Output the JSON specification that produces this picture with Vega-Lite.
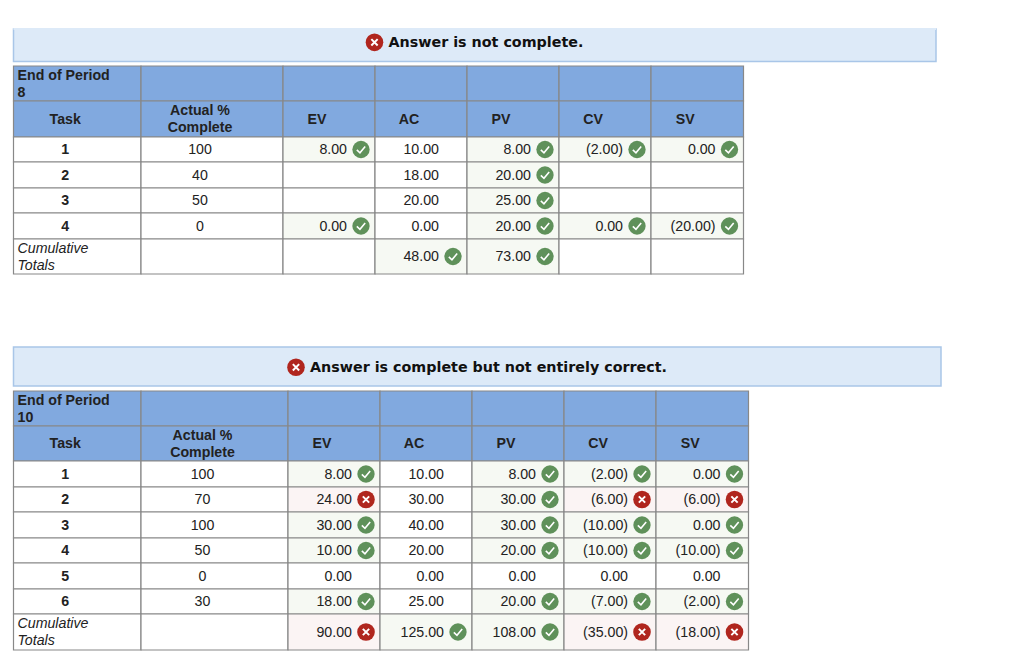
{
  "$schema": "https://vega.github.io/schema/vega-lite/v6.json",
  "width": 1024,
  "height": 671,
  "autosize": {"type": "fit", "contains": "padding"},
  "padding": 0,
  "background": "white",
  "view": {"stroke": null},
  "config": {"text": {"font": "Liberation Sans", "fontSize": 14.2, "color": "#222222", "lineBreak": "\n", "lineHeight": 17, "baseline": "middle"}},
  "data": {"values": [
    {"col":20,"colEnd":22,"row":0,"rowEnd":1,"status":"banner"},
    {"col":30,"colEnd":32,"row":10,"rowEnd":11,"status":"banner"},
    {"col":20,"colEnd":22,"row":0,"status":"cut"},
    {"colEnd":21,"row":0,"mid":0.41,"status":"bad","style":"message","text":"Answer is not complete."},
    {"colEnd":31,"row":10,"mid":10.52,"status":"bad","style":"message","text":"Answer is complete but not entirely correct."},

    {"col":0,"colEnd":1,"row":2,"rowEnd":3,"mid":2.5,"status":"head","style":"corner","text":"End of Period\n8"},
    {"col":1,"colEnd":2,"row":2,"rowEnd":3,"status":"head"},
    {"col":2,"colEnd":3,"row":2,"rowEnd":3,"status":"head"},
    {"col":3,"colEnd":4,"row":2,"rowEnd":3,"status":"head"},
    {"col":4,"colEnd":5,"row":2,"rowEnd":3,"status":"head"},
    {"col":5,"colEnd":6,"row":2,"rowEnd":3,"status":"head"},
    {"col":6,"colEnd":7,"row":2,"rowEnd":3,"status":"head"},
    {"col":0,"colEnd":1,"colMid":0.5,"row":3,"rowEnd":4,"mid":3.5,"status":"head","style":"bold","text":"Task"},
    {"col":1,"colEnd":2,"colMid":1.5,"row":3,"rowEnd":4,"mid":3.5,"status":"head","style":"bold2","text":"Actual %\nComplete"},
    {"col":2,"colEnd":3,"colMid":2.5,"row":3,"rowEnd":4,"mid":3.5,"status":"head","style":"bold","text":"EV"},
    {"col":3,"colEnd":4,"colMid":3.5,"row":3,"rowEnd":4,"mid":3.5,"status":"head","style":"bold","text":"AC"},
    {"col":4,"colEnd":5,"colMid":4.5,"row":3,"rowEnd":4,"mid":3.5,"status":"head","style":"bold","text":"PV"},
    {"col":5,"colEnd":6,"colMid":5.5,"row":3,"rowEnd":4,"mid":3.5,"status":"head","style":"bold","text":"CV"},
    {"col":6,"colEnd":7,"colMid":6.5,"row":3,"rowEnd":4,"mid":3.5,"status":"head","style":"bold","text":"SV"},

    {"col":0,"colEnd":1,"colMid":0.5,"row":4,"rowEnd":5,"mid":4.5,"status":"body","style":"bold","text":"1"},
    {"col":1,"colEnd":2,"colMid":1.5,"row":4,"rowEnd":5,"mid":4.5,"status":"body","style":"plain","text":"100"},
    {"col":2,"colEnd":3,"row":4,"rowEnd":5,"mid":4.5,"status":"ok","style":"value","text":"8.00"},
    {"col":3,"colEnd":4,"row":4,"rowEnd":5,"mid":4.5,"status":"body","style":"value","text":"10.00"},
    {"col":4,"colEnd":5,"row":4,"rowEnd":5,"mid":4.5,"status":"ok","style":"value","text":"8.00"},
    {"col":5,"colEnd":6,"row":4,"rowEnd":5,"mid":4.5,"status":"ok","style":"value","text":"(2.00)"},
    {"col":6,"colEnd":7,"row":4,"rowEnd":5,"mid":4.5,"status":"ok","style":"value","text":"0.00"},

    {"col":0,"colEnd":1,"colMid":0.5,"row":5,"rowEnd":6,"mid":5.5,"status":"body","style":"bold","text":"2"},
    {"col":1,"colEnd":2,"colMid":1.5,"row":5,"rowEnd":6,"mid":5.5,"status":"body","style":"plain","text":"40"},
    {"col":2,"colEnd":3,"row":5,"rowEnd":6,"status":"body"},
    {"col":3,"colEnd":4,"row":5,"rowEnd":6,"mid":5.5,"status":"body","style":"value","text":"18.00"},
    {"col":4,"colEnd":5,"row":5,"rowEnd":6,"mid":5.5,"status":"ok","style":"value","text":"20.00"},
    {"col":5,"colEnd":6,"row":5,"rowEnd":6,"status":"body"},
    {"col":6,"colEnd":7,"row":5,"rowEnd":6,"status":"body"},

    {"col":0,"colEnd":1,"colMid":0.5,"row":6,"rowEnd":7,"mid":6.5,"status":"body","style":"bold","text":"3"},
    {"col":1,"colEnd":2,"colMid":1.5,"row":6,"rowEnd":7,"mid":6.5,"status":"body","style":"plain","text":"50"},
    {"col":2,"colEnd":3,"row":6,"rowEnd":7,"status":"body"},
    {"col":3,"colEnd":4,"row":6,"rowEnd":7,"mid":6.5,"status":"body","style":"value","text":"20.00"},
    {"col":4,"colEnd":5,"row":6,"rowEnd":7,"mid":6.5,"status":"ok","style":"value","text":"25.00"},
    {"col":5,"colEnd":6,"row":6,"rowEnd":7,"status":"body"},
    {"col":6,"colEnd":7,"row":6,"rowEnd":7,"status":"body"},

    {"col":0,"colEnd":1,"colMid":0.5,"row":7,"rowEnd":8,"mid":7.5,"status":"body","style":"bold","text":"4"},
    {"col":1,"colEnd":2,"colMid":1.5,"row":7,"rowEnd":8,"mid":7.5,"status":"body","style":"plain","text":"0"},
    {"col":2,"colEnd":3,"row":7,"rowEnd":8,"mid":7.5,"status":"ok","style":"value","text":"0.00"},
    {"col":3,"colEnd":4,"row":7,"rowEnd":8,"mid":7.5,"status":"body","style":"value","text":"0.00"},
    {"col":4,"colEnd":5,"row":7,"rowEnd":8,"mid":7.5,"status":"ok","style":"value","text":"20.00"},
    {"col":5,"colEnd":6,"row":7,"rowEnd":8,"mid":7.5,"status":"ok","style":"value","text":"0.00"},
    {"col":6,"colEnd":7,"row":7,"rowEnd":8,"mid":7.5,"status":"ok","style":"value","text":"(20.00)"},

    {"col":0,"colEnd":1,"row":8,"rowEnd":9,"mid":8.5,"status":"body","style":"total","text":"Cumulative\nTotals"},
    {"col":1,"colEnd":2,"row":8,"rowEnd":9,"status":"body"},
    {"col":2,"colEnd":3,"row":8,"rowEnd":9,"status":"body"},
    {"col":3,"colEnd":4,"row":8,"rowEnd":9,"mid":8.5,"status":"ok","style":"value","text":"48.00"},
    {"col":4,"colEnd":5,"row":8,"rowEnd":9,"mid":8.5,"status":"ok","style":"value","text":"73.00"},
    {"col":5,"colEnd":6,"row":8,"rowEnd":9,"status":"body"},
    {"col":6,"colEnd":7,"row":8,"rowEnd":9,"status":"body"},

    {"col":10,"colEnd":11,"row":12,"rowEnd":13,"mid":12.5,"status":"head","style":"corner","text":"End of Period\n10"},
    {"col":11,"colEnd":12,"row":12,"rowEnd":13,"status":"head"},
    {"col":12,"colEnd":13,"row":12,"rowEnd":13,"status":"head"},
    {"col":13,"colEnd":14,"row":12,"rowEnd":13,"status":"head"},
    {"col":14,"colEnd":15,"row":12,"rowEnd":13,"status":"head"},
    {"col":15,"colEnd":16,"row":12,"rowEnd":13,"status":"head"},
    {"col":16,"colEnd":17,"row":12,"rowEnd":13,"status":"head"},
    {"col":10,"colEnd":11,"colMid":10.5,"row":13,"rowEnd":14,"mid":13.5,"status":"head","style":"bold","text":"Task"},
    {"col":11,"colEnd":12,"colMid":11.5,"row":13,"rowEnd":14,"mid":13.5,"status":"head","style":"bold2","text":"Actual %\nComplete"},
    {"col":12,"colEnd":13,"colMid":12.5,"row":13,"rowEnd":14,"mid":13.5,"status":"head","style":"bold","text":"EV"},
    {"col":13,"colEnd":14,"colMid":13.5,"row":13,"rowEnd":14,"mid":13.5,"status":"head","style":"bold","text":"AC"},
    {"col":14,"colEnd":15,"colMid":14.5,"row":13,"rowEnd":14,"mid":13.5,"status":"head","style":"bold","text":"PV"},
    {"col":15,"colEnd":16,"colMid":15.5,"row":13,"rowEnd":14,"mid":13.5,"status":"head","style":"bold","text":"CV"},
    {"col":16,"colEnd":17,"colMid":16.5,"row":13,"rowEnd":14,"mid":13.5,"status":"head","style":"bold","text":"SV"},

    {"col":10,"colEnd":11,"colMid":10.5,"row":14,"rowEnd":15,"mid":14.5,"status":"body","style":"bold","text":"1"},
    {"col":11,"colEnd":12,"colMid":11.5,"row":14,"rowEnd":15,"mid":14.5,"status":"body","style":"plain","text":"100"},
    {"col":12,"colEnd":13,"row":14,"rowEnd":15,"mid":14.5,"status":"ok","style":"value","text":"8.00"},
    {"col":13,"colEnd":14,"row":14,"rowEnd":15,"mid":14.5,"status":"body","style":"value","text":"10.00"},
    {"col":14,"colEnd":15,"row":14,"rowEnd":15,"mid":14.5,"status":"ok","style":"value","text":"8.00"},
    {"col":15,"colEnd":16,"row":14,"rowEnd":15,"mid":14.5,"status":"ok","style":"value","text":"(2.00)"},
    {"col":16,"colEnd":17,"row":14,"rowEnd":15,"mid":14.5,"status":"ok","style":"value","text":"0.00"},

    {"col":10,"colEnd":11,"colMid":10.5,"row":15,"rowEnd":16,"mid":15.5,"status":"body","style":"bold","text":"2"},
    {"col":11,"colEnd":12,"colMid":11.5,"row":15,"rowEnd":16,"mid":15.5,"status":"body","style":"plain","text":"70"},
    {"col":12,"colEnd":13,"row":15,"rowEnd":16,"mid":15.5,"status":"bad","style":"value","text":"24.00"},
    {"col":13,"colEnd":14,"row":15,"rowEnd":16,"mid":15.5,"status":"body","style":"value","text":"30.00"},
    {"col":14,"colEnd":15,"row":15,"rowEnd":16,"mid":15.5,"status":"ok","style":"value","text":"30.00"},
    {"col":15,"colEnd":16,"row":15,"rowEnd":16,"mid":15.5,"status":"bad","style":"value","text":"(6.00)"},
    {"col":16,"colEnd":17,"row":15,"rowEnd":16,"mid":15.5,"status":"bad","style":"value","text":"(6.00)"},

    {"col":10,"colEnd":11,"colMid":10.5,"row":16,"rowEnd":17,"mid":16.5,"status":"body","style":"bold","text":"3"},
    {"col":11,"colEnd":12,"colMid":11.5,"row":16,"rowEnd":17,"mid":16.5,"status":"body","style":"plain","text":"100"},
    {"col":12,"colEnd":13,"row":16,"rowEnd":17,"mid":16.5,"status":"ok","style":"value","text":"30.00"},
    {"col":13,"colEnd":14,"row":16,"rowEnd":17,"mid":16.5,"status":"body","style":"value","text":"40.00"},
    {"col":14,"colEnd":15,"row":16,"rowEnd":17,"mid":16.5,"status":"ok","style":"value","text":"30.00"},
    {"col":15,"colEnd":16,"row":16,"rowEnd":17,"mid":16.5,"status":"ok","style":"value","text":"(10.00)"},
    {"col":16,"colEnd":17,"row":16,"rowEnd":17,"mid":16.5,"status":"ok","style":"value","text":"0.00"},

    {"col":10,"colEnd":11,"colMid":10.5,"row":17,"rowEnd":18,"mid":17.5,"status":"body","style":"bold","text":"4"},
    {"col":11,"colEnd":12,"colMid":11.5,"row":17,"rowEnd":18,"mid":17.5,"status":"body","style":"plain","text":"50"},
    {"col":12,"colEnd":13,"row":17,"rowEnd":18,"mid":17.5,"status":"ok","style":"value","text":"10.00"},
    {"col":13,"colEnd":14,"row":17,"rowEnd":18,"mid":17.5,"status":"body","style":"value","text":"20.00"},
    {"col":14,"colEnd":15,"row":17,"rowEnd":18,"mid":17.5,"status":"ok","style":"value","text":"20.00"},
    {"col":15,"colEnd":16,"row":17,"rowEnd":18,"mid":17.5,"status":"ok","style":"value","text":"(10.00)"},
    {"col":16,"colEnd":17,"row":17,"rowEnd":18,"mid":17.5,"status":"ok","style":"value","text":"(10.00)"},

    {"col":10,"colEnd":11,"colMid":10.5,"row":18,"rowEnd":19,"mid":18.5,"status":"body","style":"bold","text":"5"},
    {"col":11,"colEnd":12,"colMid":11.5,"row":18,"rowEnd":19,"mid":18.5,"status":"body","style":"plain","text":"0"},
    {"col":12,"colEnd":13,"row":18,"rowEnd":19,"mid":18.5,"status":"body","style":"value","text":"0.00"},
    {"col":13,"colEnd":14,"row":18,"rowEnd":19,"mid":18.5,"status":"body","style":"value","text":"0.00"},
    {"col":14,"colEnd":15,"row":18,"rowEnd":19,"mid":18.5,"status":"body","style":"value","text":"0.00"},
    {"col":15,"colEnd":16,"row":18,"rowEnd":19,"mid":18.5,"status":"body","style":"value","text":"0.00"},
    {"col":16,"colEnd":17,"row":18,"rowEnd":19,"mid":18.5,"status":"body","style":"value","text":"0.00"},

    {"col":10,"colEnd":11,"colMid":10.5,"row":19,"rowEnd":20,"mid":19.5,"status":"body","style":"bold","text":"6"},
    {"col":11,"colEnd":12,"colMid":11.5,"row":19,"rowEnd":20,"mid":19.5,"status":"body","style":"plain","text":"30"},
    {"col":12,"colEnd":13,"row":19,"rowEnd":20,"mid":19.5,"status":"ok","style":"value","text":"18.00"},
    {"col":13,"colEnd":14,"row":19,"rowEnd":20,"mid":19.5,"status":"body","style":"value","text":"25.00"},
    {"col":14,"colEnd":15,"row":19,"rowEnd":20,"mid":19.5,"status":"ok","style":"value","text":"20.00"},
    {"col":15,"colEnd":16,"row":19,"rowEnd":20,"mid":19.5,"status":"ok","style":"value","text":"(7.00)"},
    {"col":16,"colEnd":17,"row":19,"rowEnd":20,"mid":19.5,"status":"ok","style":"value","text":"(2.00)"},

    {"col":10,"colEnd":11,"row":20,"rowEnd":21,"mid":20.5,"status":"body","style":"total","text":"Cumulative\nTotals"},
    {"col":11,"colEnd":12,"row":20,"rowEnd":21,"status":"body"},
    {"col":12,"colEnd":13,"row":20,"rowEnd":21,"mid":20.5,"status":"bad","style":"value","text":"90.00"},
    {"col":13,"colEnd":14,"row":20,"rowEnd":21,"mid":20.5,"status":"ok","style":"value","text":"125.00"},
    {"col":14,"colEnd":15,"row":20,"rowEnd":21,"mid":20.5,"status":"ok","style":"value","text":"108.00"},
    {"col":15,"colEnd":16,"row":20,"rowEnd":21,"mid":20.5,"status":"bad","style":"value","text":"(35.00)"},
    {"col":16,"colEnd":17,"row":20,"rowEnd":21,"mid":20.5,"status":"bad","style":"value","text":"(18.00)"}
  ]},
  "layer": [
    {
      "transform": [{"filter": "datum.status == 'banner'"}],
      "mark": {"type": "rect", "fill": "#DDEAF8", "stroke": "#A9C6E8", "strokeWidth": 1.5},
      "encoding": {
        "x": {"field": "col", "type": "quantitative", "axis": null, "scale": {"zero": false, "nice": false, "domain": [0,1,2,3,4,5,6,7,10,11,12,13,14,15,16,17,20,21,22,30,31,32], "range": [13.5,141,283,375,467,559,651,743.5,13.5,141,288,380,472,564,656,748.5,13.5,388.5,936,13.5,310,941]}},
        "x2": {"field": "colEnd"},
        "y": {"field": "row", "type": "quantitative", "axis": null, "scale": {"zero": false, "nice": false, "domain": [0,1,2,3,4,5,6,7,8,9,10,11,12,13,14,15,16,17,18,19,20,21], "range": [29,61.5,66,101,137,162,188,213,239,274,347,386,391,426,461,487,512,538,563,589,614,650]}},
        "y2": {"field": "rowEnd"}
      }
    },
    {
      "transform": [{"filter": "datum.status == 'cut'"}],
      "mark": {"type": "rule", "stroke": "#DDEAF8", "strokeWidth": 2},
      "encoding": {
        "x": {"field": "col", "type": "quantitative"},
        "x2": {"field": "colEnd"},
        "y": {"field": "row", "type": "quantitative"}
      }
    },
    {
      "transform": [{"filter": "datum.status != 'banner' && datum.status != 'cut' && datum.style != 'message'"}],
      "mark": {"type": "rect", "stroke": "#888888", "strokeWidth": 1.2},
      "encoding": {
        "x": {"field": "col", "type": "quantitative"},
        "x2": {"field": "colEnd"},
        "y": {"field": "row", "type": "quantitative"},
        "y2": {"field": "rowEnd"},
        "fill": {"field": "status", "type": "nominal", "legend": null, "scale": {"domain": ["head","body","ok","bad"], "range": ["#81A9DF","#FFFFFF","#F6F9F3","#FBF4F4"]}}
      }
    },
    {
      "transform": [{"filter": "datum.style == 'corner'"}],
      "mark": {"type": "text", "align": "left", "fontWeight": "bold", "dx": 4, "dy": -8},
      "encoding": {"x": {"field": "col", "type": "quantitative"}, "y": {"field": "mid", "type": "quantitative"}, "text": {"field": "text"}}
    },
    {
      "transform": [{"filter": "datum.style == 'total'"}],
      "mark": {"type": "text", "align": "left", "fontStyle": "italic", "dx": 4, "dy": -8},
      "encoding": {"x": {"field": "col", "type": "quantitative"}, "y": {"field": "mid", "type": "quantitative"}, "text": {"field": "text"}}
    },
    {
      "transform": [{"filter": "datum.style == 'bold'"}],
      "mark": {"type": "text", "align": "center", "fontWeight": "bold", "dx": -12, "dy": 0.5},
      "encoding": {"x": {"field": "colMid", "type": "quantitative"}, "y": {"field": "mid", "type": "quantitative"}, "text": {"field": "text"}}
    },
    {
      "transform": [{"filter": "datum.style == 'bold2'"}],
      "mark": {"type": "text", "align": "center", "fontWeight": "bold", "dx": -12, "dy": -8},
      "encoding": {"x": {"field": "colMid", "type": "quantitative"}, "y": {"field": "mid", "type": "quantitative"}, "text": {"field": "text"}}
    },
    {
      "transform": [{"filter": "datum.style == 'plain'"}],
      "mark": {"type": "text", "align": "center", "dx": -12, "dy": 0.5},
      "encoding": {"x": {"field": "colMid", "type": "quantitative"}, "y": {"field": "mid", "type": "quantitative"}, "text": {"field": "text"}}
    },
    {
      "transform": [{"filter": "datum.style == 'value'"}],
      "mark": {"type": "text", "align": "right", "dx": -28, "dy": 0.5},
      "encoding": {"x": {"field": "colEnd", "type": "quantitative"}, "y": {"field": "mid", "type": "quantitative"}, "text": {"field": "text"}}
    },
    {
      "transform": [{"filter": "datum.style == 'message'"}],
      "mark": {"type": "text", "align": "left", "font": "DejaVu Sans", "fontWeight": "bold", "fontSize": 14.3, "color": "#111111", "dy": 0.5},
      "encoding": {"x": {"field": "colEnd", "type": "quantitative"}, "y": {"field": "mid", "type": "quantitative"}, "text": {"field": "text"}}
    },
    {
      "transform": [{"filter": "datum.status == 'ok'"}],
      "mark": {"type": "point", "shape": "circle", "filled": true, "opacity": 1, "size": 300, "color": "#5F915A", "xOffset": -14},
      "encoding": {"x": {"field": "colEnd", "type": "quantitative"}, "y": {"field": "mid", "type": "quantitative"}}
    },
    {
      "transform": [{"filter": "datum.status == 'ok'"}],
      "mark": {"type": "point", "shape": "M-1,0.1L-0.25,0.8L1,-0.7", "filled": false, "opacity": 1, "size": 70, "color": "white", "strokeWidth": 1.6, "xOffset": -14},
      "encoding": {"x": {"field": "colEnd", "type": "quantitative"}, "y": {"field": "mid", "type": "quantitative"}}
    },
    {
      "transform": [{"filter": "datum.status == 'bad'"}],
      "mark": {"type": "point", "shape": "circle", "filled": true, "opacity": 1, "size": 310, "color": "#B0261E", "xOffset": -14},
      "encoding": {"x": {"field": "colEnd", "type": "quantitative"}, "y": {"field": "mid", "type": "quantitative"}}
    },
    {
      "transform": [{"filter": "datum.status == 'bad'"}],
      "mark": {"type": "point", "shape": "M-1,-1L1,1M-1,1L1,-1", "filled": false, "opacity": 1, "size": 40, "color": "white", "strokeWidth": 2, "xOffset": -14},
      "encoding": {"x": {"field": "colEnd", "type": "quantitative"}, "y": {"field": "mid", "type": "quantitative"}}
    }
  ]
}
